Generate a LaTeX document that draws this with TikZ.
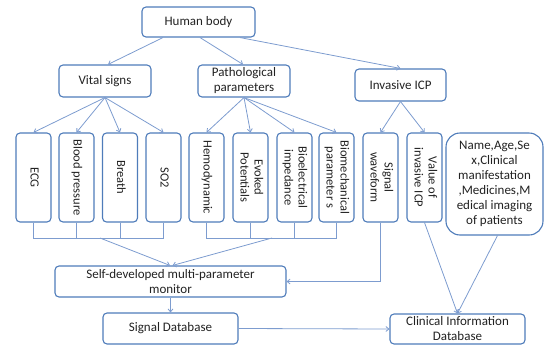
\documentclass[tikz,border=0pt]{standalone}
\usepackage{fontspec}
\setmainfont{Carlito}
\usetikzlibrary{arrows.meta}
\definecolor{bord}{HTML}{4F7CBA}
\definecolor{lin}{HTML}{7D9CCF}
\definecolor{txt}{HTML}{222222}
\tikzset{
  box/.style={draw=bord, line width=1.1pt, rounded corners=4pt, fill=white, text=txt, align=center, inner sep=1pt, font=\fontsize{13}{15}\selectfont},
  vbox/.style={box, minimum width=35pt, minimum height=89pt, font=\fontsize{12.5}{14}\selectfont},
  conn/.style={draw=lin, line width=0.8pt},
  arr/.style={conn, -{Straight Barb[length=3pt,width=5pt]}}
}
\newcommand{\vtext}[1]{\rotatebox{-90}{\begin{tabular}{@{}c@{}}#1\end{tabular}}}
\begin{document}
\begin{tikzpicture}[x=1pt,y=-1pt]
\useasboundingbox (0,0) rectangle (547,346);
% top level
\node[box, minimum width=113pt, minimum height=30pt] (hb) at (198.5,22) {Human body};
\node[box, minimum width=92pt, minimum height=32pt] (vs) at (105,81) {Vital signs};
\node[box, minimum width=92pt, minimum height=32pt] (pp) at (244,81) {Pathological\\parameters};
\node[box, minimum width=91pt, minimum height=32pt] (ic) at (400.5,85) {Invasive ICP};
% vertical boxes
\node[vbox] (ecg) at (33.5,177.5) {\vtext{ECG}};
\node[vbox] (bp) at (76.5,177.5) {\vtext{Blood pressure}};
\node[vbox] (br) at (120,177.5) {\vtext{Breath}};
\node[vbox] (so) at (163.5,177.5) {\vtext{SO2}};
\node[vbox] (hd) at (206.5,177.5) {\vtext{Hemodynamic}};
\node[vbox] (ep) at (250.5,177.5) {\vtext{Evoked\\Potentials}};
\node[vbox] (bi) at (294.5,177.5) {\vtext{Bioelectrical\\impedance}};
\node[vbox] (bm) at (336.5,177.5) {\vtext{Biomechanical\\parameter s}};
\node[vbox] (sw) at (380.5,177.5) {\vtext{Signal\\waveform}};
\node[vbox] (vi) at (424.5,177.5) {\vtext{Value of\\invasive ICP}};
\node[box, rounded corners=14pt, minimum width=97pt, minimum height=102pt] (nm) at (494.5,184) {Name,Age,Se\\x,Clinical\\manifestation\\,Medicines,M\\edical imaging\\of patients};
% bottom
\node[box, minimum width=231pt, minimum height=31pt] (mon) at (170.5,281.5) {Self-developed multi-parameter\\monitor};
\node[box, minimum width=135pt, minimum height=31pt] (sdb) at (170.5,328.5) {Signal Database};
\node[box, minimum width=135pt, minimum height=30pt] (cdb) at (457.5,329) {Clinical Information\\Database};
% connectors from top
\draw[arr] ([xshift=-35.5pt]hb.south) -- ([xshift=3pt]vs.north);
\draw[arr] ([xshift=1.5pt]hb.south) -- ([xshift=-1pt]pp.north);
\draw[arr] ([xshift=41.5pt]hb.south) -- (ic.north);
\foreach \n in {ecg,bp,br,so} \draw[arr] (vs.south) -- (\n.north);
\foreach \n in {hd,ep,bi,bm} \draw[arr] (pp.south) -- (\n.north);
\foreach \n in {sw,vi} \draw[arr] (ic.south) -- (\n.north);
% brackets
\coordinate (lb) at (100,238);
\coordinate (rb) at (272,238);
\draw[conn] (ecg.south) -- ++(0,16) -| (so.south);
\draw[conn] (bp.south) -- ++(0,16);
\draw[conn] (br.south) -- ++(0,16);
\draw[conn] (hd.south) -- ++(0,16) -| (bm.south);
\draw[conn] (ep.south) -- ++(0,16);
\draw[conn] (bi.south) -- ++(0,16);
\draw[arr] (lb) -- ([xshift=-0.5pt]mon.north);
\draw[arr] (rb) -- ([xshift=2pt]mon.north);
\draw[arr] (sw.south) |- (mon.east);
\draw[arr] (vi.south) -- (cdb.north);
\draw[arr] ([xshift=3pt]nm.south) -- (cdb.north);
\draw[arr] (mon.south) -- (sdb.north);
\draw[arr] (sdb.east) -- (cdb.west);
\end{tikzpicture}
\end{document}
